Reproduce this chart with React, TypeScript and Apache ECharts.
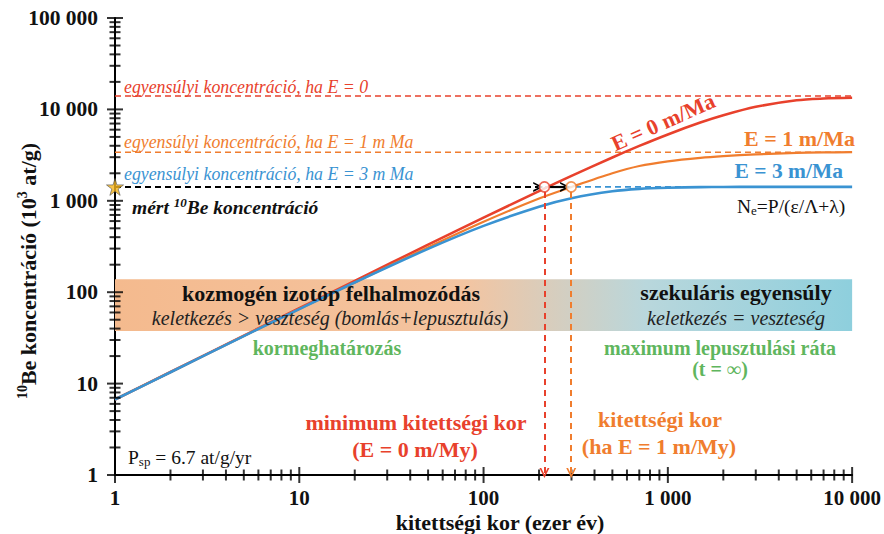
import React, { useEffect, useRef } from "react";
import * as echarts from "echarts";

// ---- data ----
const AGE_KA = [1, 2, 5, 10, 20, 50, 100, 200, 300, 500, 700, 1000, 1500, 2000, 3000, 5000, 7000, 10000];
const N_E0 = [6.7, 13.4, 33.5, 66.8, 133, 331, 654, 1278, 1873, 2979, 3986, 5324, 7171, 8624, 10668, 12600, 13150, 13400];
const N_E1 = [6.7, 13.3, 33.2, 65.5, 128, 310, 590, 1060, 1416, 2000, 2400, 2700, 2950, 3080, 3220, 3340, 3380, 3400];
const N_E3 = [6.7, 13.3, 33.1, 65.4, 127.8, 298, 532, 862, 1067, 1272, 1351, 1390, 1410, 1418, 1420, 1420, 1420, 1420];

const EQ_E0 = 14000;
const EQ_E1 = 3400;
const EQ_E3 = 1420;
const MEASURED_N = 1420;
const HIT_AGE_E0 = 214;
const HIT_AGE_E1 = 299;
const ARROW1_END = 198;
const ARROW2 = [228, 277];
const VERT_ARROW_Y = [1250, 1.05];
const BAND_Y = [37.6, 139];

const X_RANGE = [1, 10000];
const Y_RANGE = [1, 100000];
const X_TICK_LABELS = ["1", "10", "100", "1 000", "10 000"];
const Y_TICK_LABELS = ["1", "10", "100", "1 000", "10 000", "100 000"];
const X_DECADES = [1, 10, 100, 1000, 10000];
const Y_DECADES = [1, 10, 100, 1000, 10000, 100000];
const MINOR_STEPS = [2, 3, 4, 5, 6, 7, 8, 9];

const RED = "#e8412c";
const ORANGE = "#f07d2e";
const BLUE = "#3a93d2";
const GREEN = "#5fb65e";
const SERIF = "Liberation Serif";

const CHEVRON = "path://M0,10 L5,0 L10,10 L8.2,10 L5,3.6 L1.8,10 Z";
const STAR = "path://M50,0 L61,35 L98,35 L68,57 L79,91 L50,70 L21,91 L32,57 L2,35 L39,35 Z";

function minorOf(decades: number[]) {
  const out: number[] = [];
  decades.slice(0, -1).forEach((d) => MINOR_STEPS.forEach((m) => out.push(d * m)));
  return out;
}

type F = { size: number; weight?: string; italic?: boolean };

function txt(
  text: string,
  x: number,
  y: number,
  f: F,
  fill: string,
  align: string = "center",
  rotation = 0,
  small = 0
) {
  const base = {
    fontFamily: SERIF,
    fontSize: f.size,
    fontWeight: f.weight ?? "normal",
    fontStyle: f.italic ? "italic" : "normal",
    fill,
  };
  const style: any = {
    text,
    align,
    verticalAlign: "middle",
    ...base,
  };
  if (small) {
    style.rich = {
      n: { ...base, lineHeight: f.size * 1.15, verticalAlign: "middle" },
      sup: { ...base, fontSize: small, lineHeight: f.size * 1.15, verticalAlign: "top" },
      sub: { ...base, fontSize: small, lineHeight: f.size * 1.15, verticalAlign: "bottom" },
    };
  }
  return { type: "text", x, y, rotation, z: 100, silent: true, style };
}

export default function App() {
  const ref = useRef<HTMLDivElement>(null);

  useEffect(() => {
    document.body.style.margin = "0";
    const chart = echarts.init(ref.current!, null, { renderer: "svg" });

    const pairs = (ys: number[]) => AGE_KA.map((t, i) => [t, ys[i]]);
    const hLine = (v: number) => [
      [X_RANGE[0], v],
      [X_RANGE[1], v],
    ];

    const xMinor = minorOf(X_DECADES).map((v) => [v, Y_RANGE[0]]);
    const xMajor = X_DECADES.map((v) => [v, Y_RANGE[0]]);
    const yMinor = minorOf(Y_DECADES).map((v) => [X_RANGE[0], v]);
    const yMajor = Y_DECADES.map((v) => [X_RANGE[0], v]);

    const bold22: F = { size: 22, weight: "bold" };
    const bold20: F = { size: 20, weight: "bold" };
    const ital20: F = { size: 20, italic: true };
    const ital18: F = { size: 17.8, italic: true };

    const tickSeries = (data: number[][], size: number[]) => ({
      type: "scatter",
      data,
      symbol: "rect",
      symbolSize: size,
      clip: false,
      silent: true,
      z: 4,
      itemStyle: { color: "#000" },
    });

    const option: any = {
      animation: false,
      grid: { left: 115, right: 29, top: 18, bottom: 59, containLabel: false },
      xAxis: {
        type: "log",
        logBase: 10,
        min: X_RANGE[0],
        max: X_RANGE[1],
        axisLine: { show: true, lineStyle: { color: "#000", width: 2 } },
        axisTick: { show: false },
        splitLine: { show: false },
        axisLabel: {
          margin: 12,
          color: "#111",
          fontFamily: SERIF,
          fontWeight: "bold",
          fontSize: 21,
          formatter: (v: number) => X_TICK_LABELS[Math.round(Math.log10(v))] ?? "",
        },
      },
      yAxis: {
        type: "log",
        logBase: 10,
        min: Y_RANGE[0],
        max: Y_RANGE[1],
        axisLine: { show: true, lineStyle: { color: "#000", width: 2 } },
        axisTick: { show: false },
        splitLine: { show: false },
        axisLabel: {
          margin: 17,
          color: "#111",
          fontFamily: SERIF,
          fontWeight: "bold",
          fontSize: 21.5,
          formatter: (v: number) => Y_TICK_LABELS[Math.round(Math.log10(v))] ?? "",
        },
      },
      series: [
        // band
        {
          type: "line",
          name: "band",
          data: [],
          silent: true,
          z: 1,
          markArea: {
            silent: true,
            itemStyle: {
              color: new echarts.graphic.LinearGradient(0, 0, 1, 0, [
                { offset: 0, color: "#f4ba8e" },
                { offset: 0.47, color: "#f4c4a0" },
                { offset: 0.72, color: "#b9d7dc" },
                { offset: 1, color: "#8ecfdd" },
              ]),
            },
            data: [[{ coord: [X_RANGE[0], BAND_Y[0]] }, { coord: [X_RANGE[1], BAND_Y[1]] }]],
          },
        },
        // equilibrium dashed lines
        {
          type: "line",
          data: hLine(EQ_E0),
          showSymbol: false,
          silent: true,
          z: 2,
          lineStyle: { color: RED, width: 1.6, type: [6, 4] },
        },
        {
          type: "line",
          data: hLine(EQ_E1),
          showSymbol: false,
          silent: true,
          z: 2,
          lineStyle: { color: ORANGE, width: 1.6, type: [6, 4] },
        },
        {
          type: "line",
          data: hLine(EQ_E3),
          showSymbol: false,
          silent: true,
          z: 2,
          lineStyle: { color: BLUE, width: 1.6, type: [6, 4] },
          markLine: {
            silent: true,
            label: { show: false },
            symbolSize: 10,
            data: [
              [
                { coord: [X_RANGE[0], MEASURED_N], symbol: "none", lineStyle: { color: "#000", width: 2.2, type: [6, 4] } },
                { coord: [ARROW1_END, MEASURED_N], symbol: CHEVRON },
              ],
              [
                { coord: [ARROW2[0], MEASURED_N], symbol: "none", lineStyle: { color: "#000", width: 2.2, type: "solid" } },
                { coord: [ARROW2[1], MEASURED_N], symbol: CHEVRON },
              ],
            ],
          },
        },
        // curves
        {
          type: "line",
          name: "E = 0",
          data: pairs(N_E0),
          showSymbol: false,
          smooth: 0.3,
          silent: true,
          z: 3,
          lineStyle: { color: RED, width: 2.6 },
          markLine: {
            silent: true,
            label: { show: false },
            symbolSize: 10,
            lineStyle: { color: RED, width: 2, type: [6, 5] },
            data: [
              [
                { coord: [HIT_AGE_E0, VERT_ARROW_Y[0]], symbol: "none" },
                { coord: [HIT_AGE_E0, VERT_ARROW_Y[1]], symbol: CHEVRON },
              ],
            ],
          },
        },
        {
          type: "line",
          name: "E = 1",
          data: pairs(N_E1),
          showSymbol: false,
          smooth: 0.3,
          silent: true,
          z: 3,
          lineStyle: { color: ORANGE, width: 2.2 },
          markLine: {
            silent: true,
            label: { show: false },
            symbolSize: 10,
            lineStyle: { color: ORANGE, width: 2, type: [6, 5] },
            data: [
              [
                { coord: [HIT_AGE_E1, VERT_ARROW_Y[0]], symbol: "none" },
                { coord: [HIT_AGE_E1, VERT_ARROW_Y[1]], symbol: CHEVRON },
              ],
            ],
          },
        },
        {
          type: "line",
          name: "E = 3",
          data: pairs(N_E3),
          showSymbol: false,
          smooth: 0.3,
          silent: true,
          z: 3,
          lineStyle: { color: BLUE, width: 2.6 },
        },
        // hit circles
        {
          type: "scatter",
          data: [[HIT_AGE_E0, MEASURED_N]],
          symbol: "circle",
          symbolSize: 10,
          silent: true,
          z: 5,
          itemStyle: { color: "#fff", borderColor: RED, borderWidth: 1.6 },
        },
        {
          type: "scatter",
          data: [[HIT_AGE_E1, MEASURED_N]],
          symbol: "circle",
          symbolSize: 10,
          silent: true,
          z: 5,
          itemStyle: { color: "#fff", borderColor: ORANGE, borderWidth: 1.6 },
        },
        // ticks
        tickSeries(xMinor, [2, 11]),
        tickSeries(xMajor, [2, 16]),
        tickSeries(yMinor, [11, 2]),
        tickSeries(yMajor, [16, 2]),
        // star
        {
          type: "scatter",
          data: [[X_RANGE[0], MEASURED_N]],
          symbol: STAR,
          symbolSize: 17,
          clip: false,
          silent: true,
          z: 6,
          itemStyle: { color: "#f6b51c", borderColor: "#555", borderWidth: 0.8 },
        },
      ],
      graphic: [
        // axis titles
        txt("{sup|10}{n|Be koncentráció (10}{sup|3}{n| at/g)}", 28, 271, bold22, "#111", "center", Math.PI / 2, 14),
        txt("kitettségi kor (ezer év)", 500, 522, bold22, "#111"),
        // equilibrium labels
        txt("egyensúlyi koncentráció, ha E = 0", 124, 87, ital18, RED, "left"),
        txt("egyensúlyi koncentráció, ha E = 1 m Ma", 124, 142, ital18, ORANGE, "left"),
        txt("egyensúlyi koncentráció, ha E = 3 m Ma", 124, 174, ital18, BLUE, "left"),
        txt("{n|mért }{sup|10}{n|Be koncentráció}", 132, 207, { size: 19.5, weight: "bold", italic: true }, "#111", "left", 0, 13),
        // curve labels
        txt("E = 0 m/Ma", 663, 122, bold22, RED, "center", 0.42),
        txt("E = 1 m/Ma", 855, 138, bold22, ORANGE, "right"),
        txt("E = 3 m/Ma", 843, 171, { size: 21.5, weight: "bold" }, BLUE, "right"),
        txt("{n|N}{sub|e}{n|=P/(ε/Λ+λ)}", 737, 206, { size: 19.5 }, "#111", "left", 0, 13),
        // band texts
        txt("kozmogén izotóp felhalmozódás", 331, 293, bold22, "#111"),
        txt("keletkezés > veszteség (bomlás+lepusztulás)", 330, 318, ital20, "#222"),
        txt("szekuláris egyensúly", 736, 292, bold22, "#111"),
        txt("keletkezés = veszteség", 736, 318, ital20, "#222"),
        txt("kormeghatározás", 327, 348, bold20, GREEN),
        txt("maximum lepusztulási ráta", 720, 348, bold20, GREEN),
        txt("(t = ∞)", 720, 369, bold20, GREEN),
        // age labels
        txt("minimum kitettségi kor", 416, 422, bold22, RED),
        txt("(E = 0 m/My)", 415, 449, bold22, RED),
        txt("kitettségi kor", 660, 419, bold22, ORANGE),
        txt("(ha E = 1 m/My)", 659, 446, bold22, ORANGE),
        // production rate
        txt("{n|P}{sub|sp}{n| = 6.7 at/g/yr}", 128, 457, { size: 19.5 }, "#111", "left", 0, 13),
      ],
    };

    chart.setOption(option);
    return () => chart.dispose();
  }, []);

  return <div ref={ref} style={{ width: 884, height: 534 }} />;
}
